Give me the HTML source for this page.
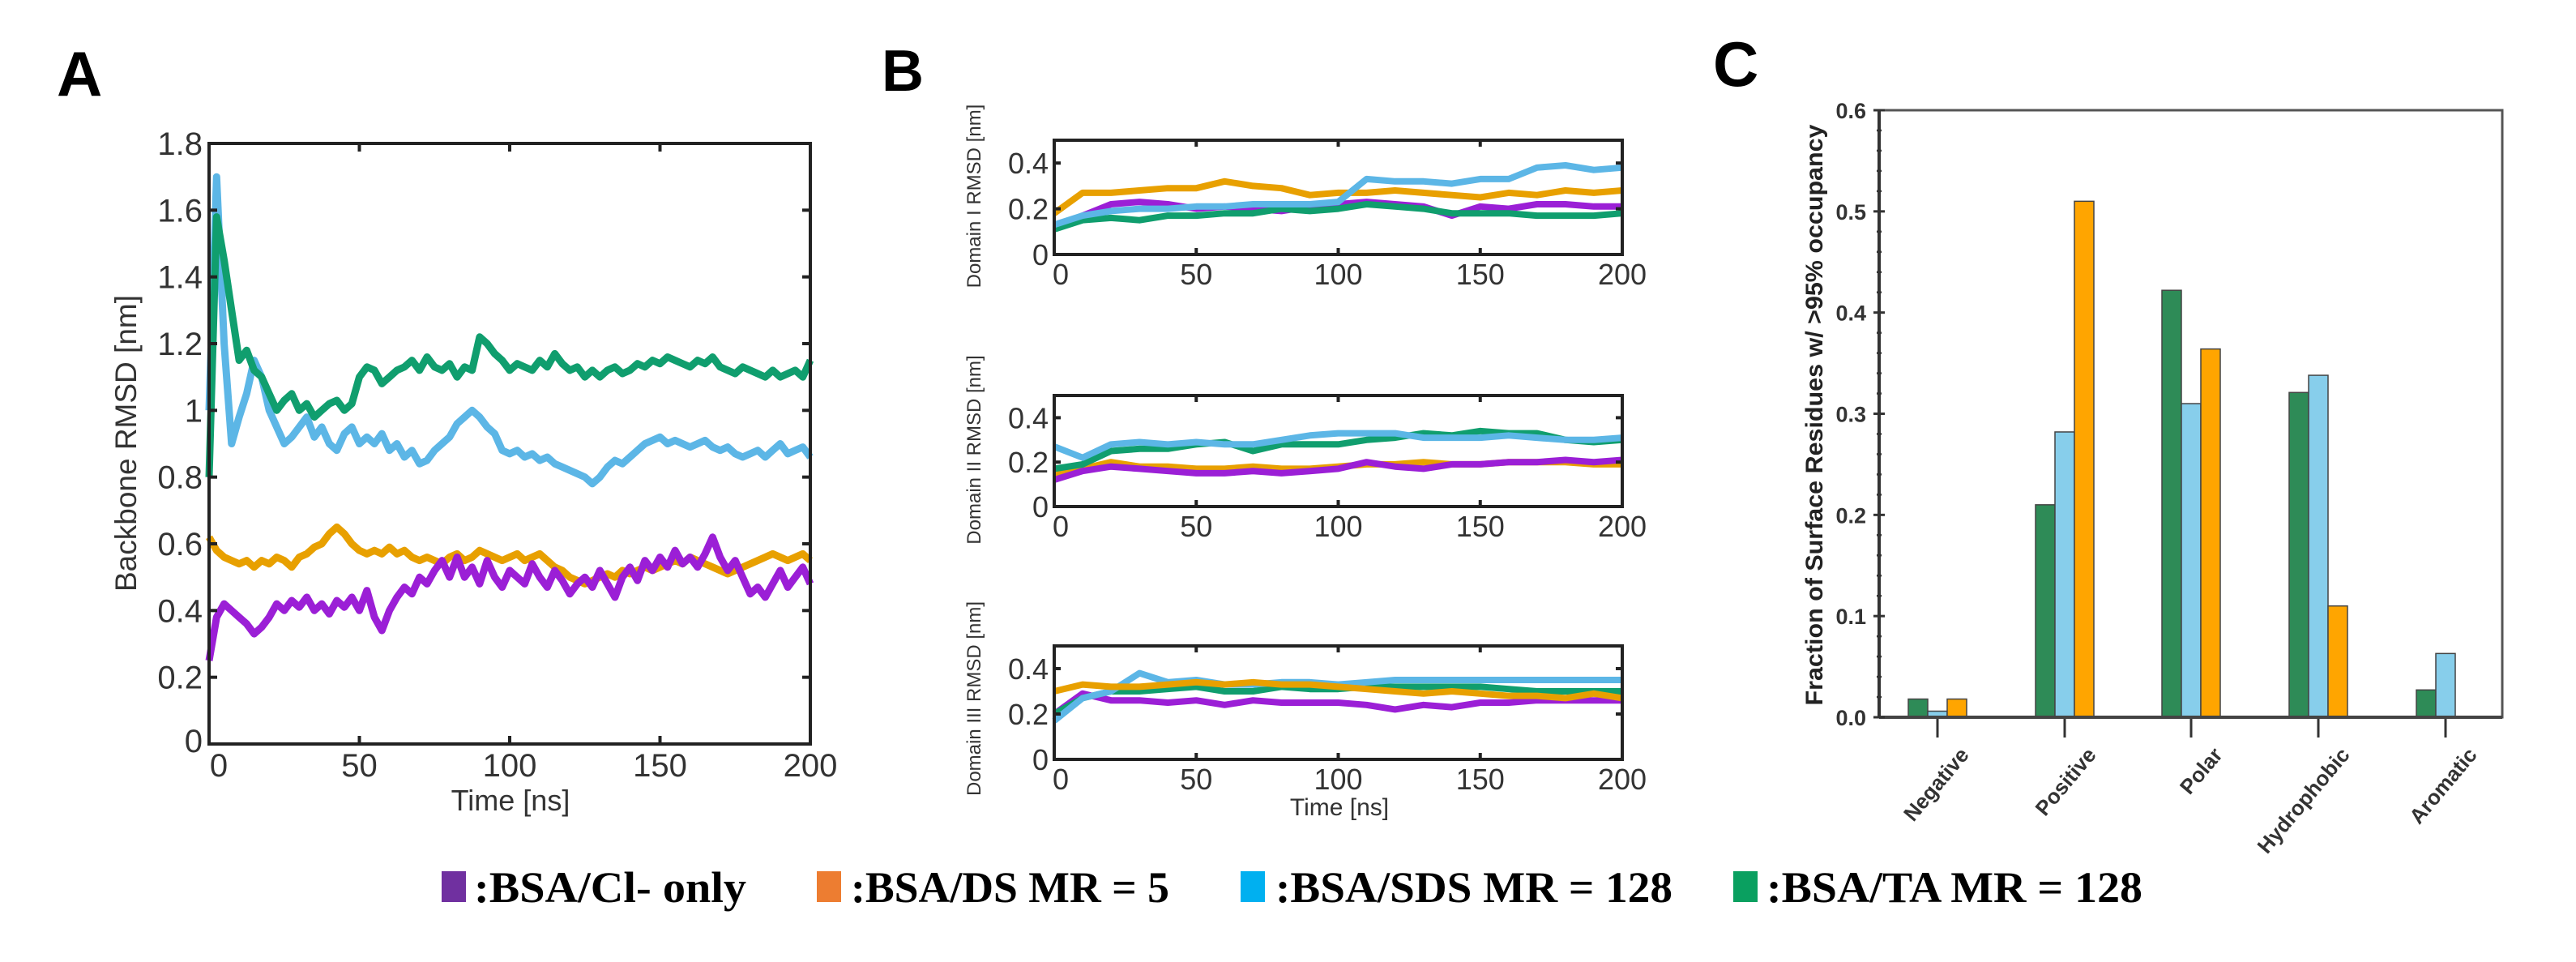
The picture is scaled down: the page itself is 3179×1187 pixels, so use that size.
<!DOCTYPE html>
<html><head><meta charset="utf-8"><style>
html,body{margin:0;padding:0;background:#fff;}
svg{display:block;}
text{font-family:"Liberation Sans",Arial,sans-serif;}
</style></head><body>
<svg id="fig" width="3179" height="1187" viewBox="0 0 3179 1187" xmlns="http://www.w3.org/2000/svg">
<rect width="3179" height="1187" fill="#fff"/>
<text x="70" y="118" font-size="78" font-weight="bold" fill="#000">A</text>
<text x="1088" y="112" font-size="72" font-weight="bold" fill="#000">B</text>
<text x="2114" y="106" font-size="78" font-weight="bold" fill="#000">C</text>
<g id="gA"></g>
<g id="gB"></g>
<g id="gC"></g>
<g id="legend"></g>
</svg>
<script>
const NS="http://www.w3.org/2000/svg";
// ---------- Panel A data ----------
const timeA=[0,2.5,5,7.5,10,12.5,15,17.5,20,22.5,25,27.5,30,32.5,35,37.5,40,42.5,45,47.5,50,52.5,55,57.5,60,62.5,65,67.5,70,72.5,75,77.5,80,82.5,85,87.5,90,92.5,95,97.5,100,102.5,105,107.5,110,112.5,115,117.5,120,122.5,125,127.5,130,132.5,135,137.5,140,142.5,145,147.5,150,152.5,155,157.5,160,162.5,165,167.5,170,172.5,175,177.5,180,182.5,185,187.5,190,192.5,195,197.5,200];
const aTA=[0.8,1.58,1.45,1.3,1.15,1.18,1.12,1.1,1.05,1.0,1.03,1.05,1.0,1.02,0.98,1.0,1.02,1.03,1.0,1.02,1.1,1.13,1.12,1.08,1.1,1.12,1.13,1.15,1.12,1.16,1.13,1.12,1.14,1.1,1.13,1.12,1.22,1.2,1.17,1.15,1.12,1.14,1.13,1.12,1.15,1.13,1.17,1.14,1.12,1.13,1.1,1.12,1.1,1.12,1.13,1.11,1.12,1.14,1.13,1.15,1.14,1.16,1.15,1.14,1.13,1.15,1.14,1.16,1.13,1.12,1.11,1.13,1.12,1.11,1.1,1.12,1.1,1.11,1.12,1.1,1.15];
const aSDS=[1.0,1.7,1.2,0.9,0.98,1.05,1.15,1.1,1.0,0.95,0.9,0.92,0.95,0.98,0.92,0.95,0.9,0.88,0.93,0.95,0.9,0.92,0.9,0.93,0.88,0.9,0.86,0.88,0.84,0.85,0.88,0.9,0.92,0.96,0.98,1.0,0.98,0.95,0.93,0.88,0.87,0.88,0.86,0.87,0.85,0.86,0.84,0.83,0.82,0.81,0.8,0.78,0.8,0.83,0.85,0.84,0.86,0.88,0.9,0.91,0.92,0.9,0.91,0.9,0.89,0.9,0.91,0.89,0.88,0.89,0.87,0.86,0.87,0.88,0.86,0.88,0.9,0.87,0.88,0.89,0.86];
const aDS=[0.62,0.58,0.56,0.55,0.54,0.55,0.53,0.55,0.54,0.56,0.55,0.53,0.56,0.57,0.59,0.6,0.63,0.65,0.63,0.6,0.58,0.57,0.58,0.57,0.59,0.57,0.58,0.56,0.55,0.56,0.55,0.54,0.56,0.57,0.55,0.56,0.58,0.57,0.56,0.55,0.56,0.57,0.55,0.56,0.57,0.55,0.53,0.52,0.5,0.49,0.48,0.49,0.5,0.51,0.5,0.52,0.51,0.52,0.53,0.52,0.53,0.54,0.55,0.54,0.56,0.55,0.54,0.53,0.52,0.51,0.52,0.53,0.54,0.55,0.56,0.57,0.56,0.55,0.56,0.57,0.55];
const aCl=[0.25,0.38,0.42,0.4,0.38,0.36,0.33,0.35,0.38,0.42,0.4,0.43,0.41,0.44,0.4,0.42,0.39,0.43,0.41,0.44,0.4,0.46,0.38,0.34,0.4,0.44,0.47,0.45,0.5,0.48,0.52,0.55,0.5,0.56,0.5,0.53,0.48,0.55,0.5,0.47,0.52,0.5,0.48,0.54,0.5,0.47,0.52,0.49,0.45,0.48,0.5,0.47,0.52,0.48,0.44,0.5,0.53,0.49,0.55,0.52,0.56,0.53,0.58,0.54,0.56,0.53,0.57,0.62,0.56,0.52,0.55,0.5,0.45,0.47,0.44,0.48,0.52,0.47,0.5,0.53,0.48];
const xTicksA=[0,50,100,150,200];
const xTickLabelsA=["0","50","100","150","200"];
const yTicksA=[0,0.2,0.4,0.6,0.8,1,1.2,1.4,1.6,1.8];
const yTickLabelsA=["0","0.2","0.4","0.6","0.8","1","1.2","1.4","1.6","1.8"];
// ---------- Panel B data ----------
const timeB=[0,10,20,30,40,50,60,70,80,90,100,110,120,130,140,150,160,170,180,190,200];
const b1DS=[0.18,0.27,0.27,0.28,0.29,0.29,0.32,0.3,0.29,0.26,0.27,0.27,0.28,0.27,0.26,0.25,0.27,0.26,0.28,0.27,0.28];
const b1SDS=[0.13,0.17,0.19,0.2,0.2,0.21,0.21,0.22,0.22,0.22,0.23,0.33,0.32,0.32,0.31,0.33,0.33,0.38,0.39,0.37,0.38];
const b1Cl=[0.12,0.17,0.22,0.23,0.22,0.2,0.21,0.2,0.19,0.21,0.22,0.23,0.22,0.21,0.17,0.21,0.2,0.22,0.22,0.21,0.21];
const b1TA=[0.11,0.15,0.16,0.15,0.17,0.17,0.18,0.18,0.2,0.19,0.2,0.22,0.21,0.2,0.18,0.18,0.18,0.17,0.17,0.17,0.18];
const b2SDS=[0.27,0.22,0.28,0.29,0.28,0.29,0.28,0.28,0.3,0.32,0.33,0.33,0.33,0.31,0.31,0.31,0.32,0.31,0.3,0.3,0.31];
const b2TA=[0.17,0.19,0.25,0.26,0.26,0.28,0.29,0.25,0.28,0.28,0.28,0.3,0.31,0.33,0.32,0.34,0.33,0.33,0.3,0.29,0.3];
const b2DS=[0.15,0.17,0.2,0.18,0.18,0.17,0.17,0.18,0.17,0.17,0.18,0.19,0.19,0.2,0.19,0.19,0.2,0.2,0.2,0.19,0.19];
const b2Cl=[0.12,0.16,0.18,0.17,0.16,0.15,0.15,0.16,0.15,0.16,0.17,0.2,0.18,0.17,0.19,0.19,0.2,0.2,0.21,0.2,0.21];
const b3SDS=[0.17,0.27,0.3,0.38,0.34,0.35,0.33,0.33,0.34,0.34,0.33,0.34,0.35,0.35,0.35,0.35,0.35,0.35,0.35,0.35,0.35];
const b3DS=[0.3,0.33,0.32,0.32,0.33,0.34,0.33,0.34,0.33,0.33,0.32,0.31,0.3,0.29,0.3,0.29,0.28,0.28,0.27,0.29,0.27];
const b3TA=[0.2,0.27,0.3,0.3,0.31,0.32,0.3,0.3,0.32,0.31,0.31,0.32,0.32,0.32,0.32,0.32,0.31,0.3,0.3,0.3,0.3];
const b3Cl=[0.2,0.29,0.26,0.26,0.25,0.26,0.24,0.26,0.25,0.25,0.25,0.24,0.22,0.24,0.23,0.25,0.25,0.26,0.26,0.26,0.26];
const yTicksB=[0,0.2,0.4];
const yTickLabelsB=["0","0.2","0.4"];
const bTitles=["Domain I RMSD [nm]","Domain II RMSD [nm]","Domain III RMSD [nm]"];
// ---------- Panel C data ----------
const categoriesC=["Negative","Positive","Polar","Hydrophobic","Aromatic"];
const cTA=[0.018,0.21,0.422,0.321,0.027];
const cSDS=[0.006,0.282,0.31,0.338,0.063];
const cDS=[0.018,0.51,0.364,0.11,0];
const yTicksC=[0,0.1,0.2,0.3,0.4,0.5,0.6];
const yTickLabelsC=["0.0","0.1","0.2","0.3","0.4","0.5","0.6"];
// ---------- Legend ----------
const legendLabels=[":BSA/Cl- only",":BSA/DS MR = 5",":BSA/SDS MR = 128",":BSA/TA MR = 128"];

const COL={cl:"#9b1fd6",ds:"#e8a000",sds:"#5cb6e6",ta:"#109e6e"};
function mk(tag,attrs,parent){const e=document.createElementNS(NS,tag);for(const k in attrs)e.setAttribute(k,attrs[k]);parent.appendChild(e);return e;}
function lin(d0,d1,r0,r1){return v=>r0+(v-d0)/(d1-d0)*(r1-r0);}

// ===== Panel A =====
(function(){
  const g=document.getElementById('gA');
  const L=258,R=1000,T=177,B=918;
  const x=lin(0,200,L,R), y=lin(0,1.8,B,T);
  const series=[[aDS,COL.ds,"line-bsa-ds"],[aCl,COL.cl,"line-bsa-cl"],[aSDS,COL.sds,"line-bsa-sds"],[aTA,COL.ta,"line-bsa-ta"]];
  series.forEach(s=>{
    const d=s[0].map((v,i)=>(i?"L":"M")+x(timeA[i]).toFixed(1)+","+y(v).toFixed(1)).join("");
    const p=mk('path',{d:d,fill:"none",stroke:s[1],"stroke-width":9,"stroke-linejoin":"round"},g);
    
    
  });
  const fr=mk('rect',{x:L,y:T,width:R-L,height:B-T,fill:"none",stroke:"#222","stroke-width":4},g);
  
  
  xTicksA.forEach((v,i)=>{
    mk('line',{x1:x(v),x2:x(v),y1:B,y2:B-10,stroke:"#222","stroke-width":4},g);
    mk('line',{x1:x(v),x2:x(v),y1:T,y2:T+10,stroke:"#222","stroke-width":4},g);
    const t=mk('text',{x:x(v)+(i==0?12:0),y:958,"font-size":40,fill:"#333","text-anchor":"middle"},g);
    t.textContent=xTickLabelsA[i];
    
    
  });
  yTicksA.forEach((v,i)=>{
    mk('line',{x1:L,x2:L+10,y1:y(v),y2:y(v),stroke:"#222","stroke-width":4},g);
    mk('line',{x1:R,x2:R-10,y1:y(v),y2:y(v),stroke:"#222","stroke-width":4},g);
    const t=mk('text',{x:250,y:y(v)+14-(i==0?4:0),"font-size":40,fill:"#333","text-anchor":"end"},g);
    t.textContent=yTickLabelsA[i];
    
    
  });
  const xt=mk('text',{x:630,y:1000,"font-size":36,fill:"#333","text-anchor":"middle"},g);
  xt.textContent="Time [ns]";
  
  
  const yt=mk('text',{x:0,y:0,"font-size":37,fill:"#333","text-anchor":"middle",transform:"translate(168,547) rotate(-90)"},g);
  yt.textContent="Backbone RMSD [nm]";
  
  
})();

// ===== Panel B =====
(function(){
  const g=document.getElementById('gB');
  const L=1301,R=2002;
  const tops=[173,488,797], bots=[314,625,937];
  const sets=[
    [[b1DS,COL.ds,"ds"],[b1Cl,COL.cl,"cl"],[b1TA,COL.ta,"ta"],[b1SDS,COL.sds,"sds"]],
    [[b2DS,COL.ds,"ds"],[b2Cl,COL.cl,"cl"],[b2TA,COL.ta,"ta"],[b2SDS,COL.sds,"sds"]],
    [[b3Cl,COL.cl,"cl"],[b3TA,COL.ta,"ta"],[b3SDS,COL.sds,"sds"],[b3DS,COL.ds,"ds"]]];
  const centers=[242,555,862];
  const x=lin(0,200,L,R);
  for(let k=0;k<3;k++){
    const T=tops[k],B=bots[k];
    const y=lin(0,0.5,B,T);
    sets[k].forEach(s=>{
      const d=s[0].map((v,i)=>(i?"L":"M")+x(timeB[i]).toFixed(1)+","+y(v).toFixed(1)).join("");
      const p=mk('path',{d:d,fill:"none",stroke:s[1],"stroke-width":8,"stroke-linejoin":"round"},g);
      
      
    });
    const fr=mk('rect',{x:L,y:T,width:R-L,height:B-T,fill:"none",stroke:"#222","stroke-width":4},g);
    
    
    xTicksA.forEach((v,i)=>{
      mk('line',{x1:x(v),x2:x(v),y1:B,y2:B-8,stroke:"#222","stroke-width":4},g);
      mk('line',{x1:x(v),x2:x(v),y1:T,y2:T+8,stroke:"#222","stroke-width":4},g);
      const t=mk('text',{x:x(v)+(i==0?8:0),y:B+37,"font-size":36,fill:"#333","text-anchor":"middle"},g);
      t.textContent=xTickLabelsA[i];
      
      
    });
    yTicksB.forEach((v,i)=>{
      mk('line',{x1:L,x2:L+8,y1:y(v),y2:y(v),stroke:"#222","stroke-width":4},g);
      mk('line',{x1:R,x2:R-8,y1:y(v),y2:y(v),stroke:"#222","stroke-width":4},g);
      const t=mk('text',{x:1294,y:y(v)+13,"font-size":36,fill:"#333","text-anchor":"end"},g);
      t.textContent=yTickLabelsB[i];
      
      
    });
    const yt=mk('text',{x:0,y:0,"font-size":24,fill:"#333","text-anchor":"middle",transform:"translate(1210,"+centers[k]+") rotate(-90)"},g);
    yt.textContent=bTitles[k];
    
    
  }
  const xt=mk('text',{x:1653,y:1006,"font-size":30,fill:"#333","text-anchor":"middle"},g);
  xt.textContent="Time [ns]";
  
  
})();

// ===== Panel C =====
(function(){
  const g=document.getElementById('gC');
  const L=2319,R=3088,T=136,B=885;
  const y=lin(0,0.6,B,T);
  const centers=[2391,2548,2704,2861,3018];
  const bw=24;
  const fr=mk('path',{d:"M"+L+","+T+"H"+R+"V"+B+"H"+L+"Z",fill:"none",stroke:"#555","stroke-width":3},g);
  
  
  const series=[[cTA,"#2e8b57","bar-ta"],[cSDS,"#87ceeb","bar-sds"],[cDS,"#ffa500","bar-ds"]];
  categoriesC.forEach((c,i)=>{
    series.forEach((s,j)=>{
      const v=s[0][i]; if(v<=0) return;
      const r=mk('rect',{x:centers[i]-1.5*bw+j*bw,y:y(v),width:bw,height:B-y(v),fill:s[1],stroke:"#444","stroke-width":1.5},g);
      
      
    });
    mk('line',{x1:centers[i],x2:centers[i],y1:B,y2:B+25,stroke:"#333","stroke-width":3},g);
    const t=mk('text',{x:0,y:0,"font-size":26,"font-weight":"bold",fill:"#333","text-anchor":"end",transform:"translate("+(centers[i]+40)+",932) rotate(-50)"},g);
    t.textContent=c;
    
    
  });
  mk('line',{x1:L,x2:R,y1:B,y2:B,stroke:"#444","stroke-width":4},g);
  mk('line',{x1:L,x2:L,y1:T,y2:B,stroke:"#333","stroke-width":4},g);
  for(let m=0;m<=30;m++){
    const yy=y(m*0.02);
    mk('line',{x1:L-3,x2:L+3,y1:yy,y2:yy,stroke:"#333","stroke-width":2.5},g);
  }
  yTicksC.forEach((v,i)=>{
    mk('line',{x1:L-7,x2:L+7,y1:y(v),y2:y(v),stroke:"#333","stroke-width":3},g);
    const t=mk('text',{x:2303,y:y(v)+10,"font-size":27,"font-weight":"bold",fill:"#333","text-anchor":"end"},g);
    t.textContent=yTickLabelsC[i];
    
    
  });
  const yt=mk('text',{x:0,y:0,"font-size":30,"font-weight":"bold",fill:"#222","text-anchor":"middle",textLength:717,lengthAdjust:"spacingAndGlyphs",transform:"translate(2249,512) rotate(-90)"},g);
  yt.textContent="Fraction of Surface Residues w/ >95% occupancy";
  
  
})();

// ===== Legend =====
(function(){
  const g=document.getElementById('legend');
  const sq=[545,1008,1531,2139];
  const tx=[[585,921],[1050,1443],[1574,2064],[2180,2644]];
  const cols=["#7030a0","#ed7d31","#00b0f0","#0aa060"];
  legendLabels.forEach((lab,i)=>{
    const r=mk('rect',{x:sq[i],y:1075,width:30,height:38,fill:cols[i]},g);
    
    
    const t=mk('text',{x:tx[i][0],y:1113,"font-size":54,"font-weight":"bold",fill:"#000",textLength:tx[i][1]-tx[i][0],lengthAdjust:"spacingAndGlyphs",style:"font-family:'Liberation Serif',serif"},g);
    t.textContent=lab;
    
    
  });
})();
</script>
</body></html>
